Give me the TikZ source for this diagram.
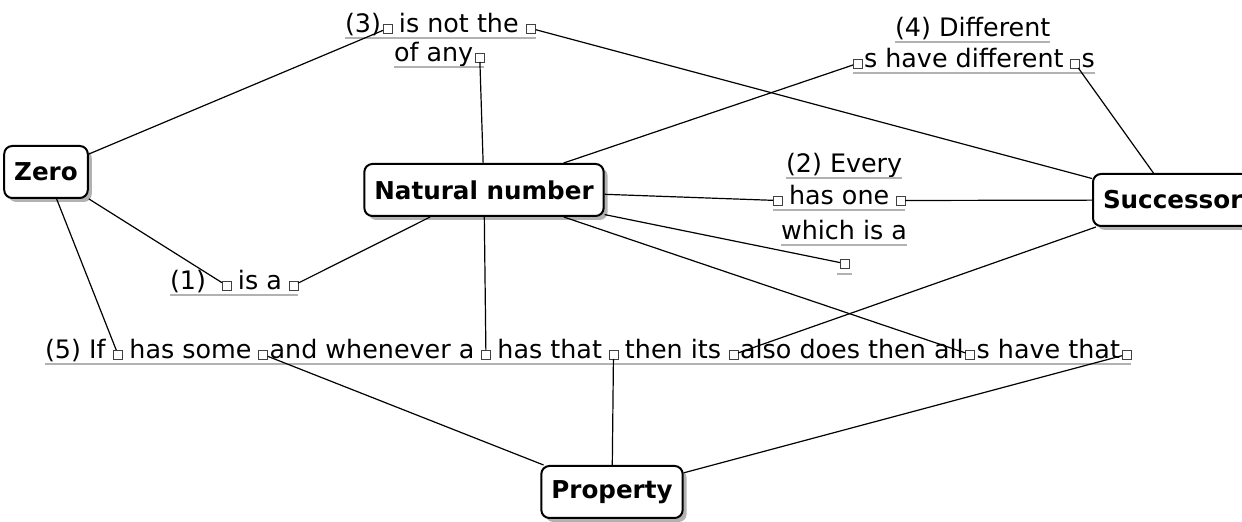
\documentclass[tikz,border=0pt]{standalone}
\usepackage{fontspec}
\setmainfont{DejaVu Sans}
\usetikzlibrary{positioning, shadows}
\newcommand\lblfont{\fontsize{12.7}{15}\selectfont}
\newcommand\cptfont{\fontsize{12.3}{14}\selectfont\bfseries}
\begin{document}
\begin{tikzpicture}[
    x=0.5pt, y=-0.5pt,
    node distance=3.5pt,
    concept/.style={rectangle, draw, line width=1pt, rounded corners=4pt, fill=white,
      drop shadow={shadow xshift=2pt, shadow yshift=-2pt, fill=black!60},
      inner xsep=5pt, minimum height=26pt, font=\cptfont},
    lbl/.style={inner sep=0pt, outer sep=0pt, font=\lblfont},
    slot/.style={draw=black!75, line width=0.4pt, inner sep=0pt, outer sep=0pt,
      minimum width=4.5pt, text height=4.5pt, text depth=0pt},
    uline/.style={draw=black!30, line width=1pt},
    link/.style={draw, line width=0.6pt}
  ]
    \useasboundingbox (0,0) rectangle (1242,522);
    % concepts
    \node[concept] (zero) at (46,172) {Zero};
    \node[concept] (nat) at (484,190) {Natural number};
    \node[concept, anchor=west] (succ) at (1092,200) {Successor};
    \node[concept] (prop) at (612,492) {Property};
    % (3)
    \node[lbl, anchor=base west] (t3a) at (345,33) {(3)};
    \node[slot, base right=1pt of t3a] (s3a) {};
    \node[lbl, base right=of s3a] (t3b) {is not the};
    \node[slot, base right=4pt of t3b] (s3b) {};
    \node[lbl, anchor=base west] (t3c) at (394,62) {of any};
    \node[slot, base right=1pt of t3c] (s3c) {};
    % (4)
    \node[lbl, anchor=base west] (t4a) at (895,37) {(4) Different};
    \node[slot, anchor=base west] (s4a) at (853,68) {};
    \node[lbl, base right=1pt of s4a] (t4b) {s have different};
    \node[slot, base right=of t4b] (s4b) {};
    \node[lbl, base right=1pt of s4b] (t4c) {s};
    % (2)
    \node[lbl, anchor=base west] (t2a) at (786,173) {(2) Every};
    \node[slot, anchor=base west] (s2a) at (773,205) {};
    \node[lbl, base right=of s2a] (t2b) {has one};
    \node[slot, base right=of t2b] (s2b) {};
    \node[lbl, anchor=base west] (t2c) at (781,240) {which is a};
    \node[slot, anchor=base west] (s2c) at (840,268) {};
    % (1)
    \node[lbl, anchor=base west] (t1a) at (170,290) {(1)};
    \node[slot, base right=8pt of t1a] (s1a) {};
    \node[lbl, base right=of s1a] (t1b) {is a};
    \node[slot, base right=of t1b] (s1b) {};
    % (5)
    \node[lbl, anchor=base west] (t5a) at (45,359) {(5) If};
    \node[slot, base right=4pt of t5a] (s5a) {};
    \node[lbl, base right=of s5a] (t5b) {has some};
    \node[slot, base right=of t5b] (s5b) {};
    \node[lbl, base right=1pt of s5b] (t5c) {and whenever a};
    \node[slot, base right=of t5c] (s5c) {};
    \node[lbl, base right=of s5c] (t5d) {has that};
    \node[slot, base right=of t5d] (s5d) {};
    \node[lbl, base right=of s5d] (t5e) {then its};
    \node[slot, base right=4pt of t5e] (s5e) {};
    \node[lbl, base right=1pt of s5e] (t5f) {also does then all};
    \node[slot, base right=1pt of t5f] (s5f) {};
    \node[lbl, base right=1pt of s5f] (t5g) {s have that};
    \node[slot, base right=1pt of t5g] (s5g) {};
    % underlines
    \draw[uline] ([yshift=-2.5pt]t3a.base west) -- ([yshift=-2.5pt]s3b.base east);
    \draw[uline] ([yshift=-2.5pt]t3c.base west) -- ([yshift=-2.5pt]s3c.base east);
    \draw[uline] ([yshift=-2.5pt]t4a.base west) -- ([yshift=-2.5pt]t4a.base east);
    \draw[uline] ([yshift=-2.5pt]s4a.base west) -- ([yshift=-2.5pt]t4c.base east);
    \draw[uline] ([yshift=-2.5pt]t2a.base west) -- ([yshift=-2.5pt]t2a.base east);
    \draw[uline] ([yshift=-2.5pt]s2a.base west) -- ([yshift=-2.5pt]s2b.base east);
    \draw[uline] ([yshift=-2.5pt]t2c.base west) -- ([yshift=-2.5pt]t2c.base east);
    \draw[uline] ([xshift=-1.5pt, yshift=-3pt]s2c.base west) -- ([xshift=1.5pt, yshift=-3pt]s2c.base east);
    \draw[uline] ([yshift=-2.5pt]t1a.base west) -- ([yshift=-2.5pt]s1b.base east);
    \draw[uline] ([yshift=-2.5pt]t5a.base west) -- ([yshift=-2.5pt]s5g.base east);
    % links
    \draw[link] (zero) -- (s3a);
    \draw[link] (zero) -- (s1a);
    \draw[link] (zero) -- (s5a);
    \draw[link] (nat) -- (s3c);
    \draw[link] (nat) -- (s1b);
    \draw[link] (nat) -- (s4a);
    \draw[link] (nat) -- (s2a);
    \draw[link] (nat) -- (s2c);
    \draw[link] (nat) -- (s5c);
    \draw[link] (nat) -- (s5f);
    \draw[link] (succ) -- (s3b);
    \draw[link] (succ) -- (s4b);
    \draw[link] (succ) -- (s2b);
    \draw[link] (succ) -- (s5e);
    \draw[link] (prop) -- (s5b);
    \draw[link] (prop) -- (s5d);
    \draw[link] (prop) -- (s5g);
  \end{tikzpicture}
\end{document}
